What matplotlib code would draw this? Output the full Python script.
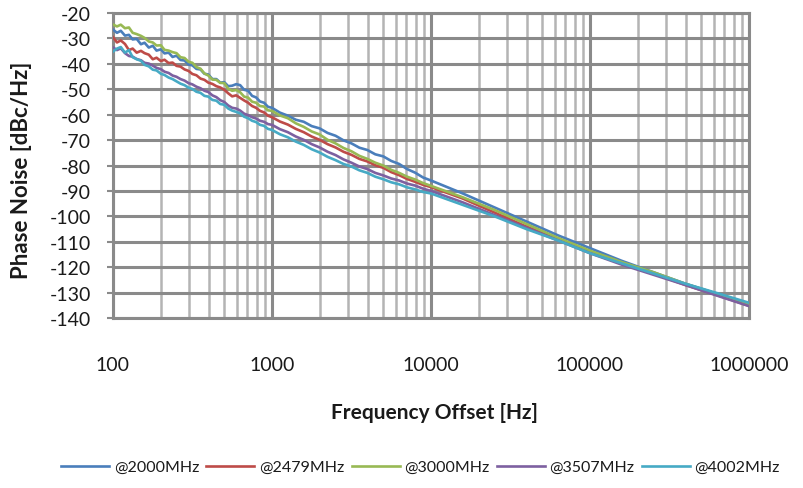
import matplotlib
matplotlib.use("Agg")
import matplotlib.pyplot as plt
from matplotlib.ticker import LogLocator, FixedLocator, NullFormatter

plt.rcParams["font.family"] = ["Lato", "DejaVu Sans"]

# frequency offset points [Hz]
freq = [100, 106, 112, 119, 126, 133, 141, 150, 158, 168,
        178, 188, 200, 211, 224, 237, 251, 266, 282, 299,
        316, 335, 355, 376, 398, 422, 447, 473, 501, 531,
        562, 596, 631, 668, 708, 750, 794, 841, 891, 944,
        1000, 1122, 1259, 1413, 1585, 1778, 1995, 2239, 2512, 2818,
        3162, 3548, 3981, 4467, 5012, 5623, 6310, 7079, 7943, 8913,
        10000, 15849, 25119, 39811, 63096, 100000, 158489, 251189, 398107, 630957,
        1000000]

# phase noise [dBc/Hz]
pn_2000 = [-26.5, -27.8, -27.0, -28.9, -28.6, -30.4, -30.2, -32.3, -31.7, -33.6,
           -32.9, -34.8, -34.3, -35.9, -35.6, -37.3, -36.8, -38.5, -38.7, -40.3,
           -40.6, -42.0, -42.2, -43.9, -44.2, -46.0, -46.0, -47.4, -47.2, -48.8,
           -48.6, -48.0, -48.4, -50.2, -50.6, -52.6, -53.2, -54.8, -55.3, -56.9,
           -57.3, -59.2, -60.4, -62.0, -62.8, -64.5, -65.4, -67.2, -68.3, -70.1,
           -71.3, -73.0, -73.9, -75.6, -76.4, -78.2, -79.4, -81.4, -82.8, -84.7,
           -85.9, -91.0, -96.5, -102.0, -107.5, -112.5, -117.5, -122.0, -126.5, -130.5,
           -134.5]
pn_2479 = [-29.5, -31.6, -30.8, -32.2, -34.6, -34.0, -35.6, -34.9, -35.8, -36.4,
           -38.2, -37.6, -38.9, -38.4, -39.7, -39.5, -40.8, -41.1, -42.2, -42.8,
           -44.0, -44.5, -45.8, -46.3, -47.4, -47.9, -48.8, -49.3, -50.2, -51.6,
           -52.8, -52.4, -53.4, -54.4, -55.3, -56.6, -57.3, -58.5, -59.1, -60.4,
           -61.0, -62.7, -63.9, -65.6, -66.9, -68.6, -69.9, -71.6, -72.9, -74.6,
           -75.8, -77.4, -78.4, -79.9, -80.9, -82.6, -83.8, -85.3, -86.4, -87.6,
           -88.5, -93.0, -98.5, -104.0, -109.0, -114.0, -118.5, -122.5, -127.0, -131.0,
           -135.2]
pn_3000 = [-24.5, -25.3, -24.6, -26.0, -25.7, -27.8, -28.3, -29.0, -29.8, -31.2,
           -31.6, -32.8, -32.7, -34.5, -34.8, -35.4, -35.8, -37.4, -37.7, -39.2,
           -39.6, -41.3, -41.9, -43.8, -44.6, -46.2, -46.3, -47.5, -47.6, -49.8,
           -50.6, -50.3, -51.2, -52.9, -53.3, -54.9, -55.3, -56.6, -56.8, -58.3,
           -58.5, -60.3, -61.4, -63.4, -64.8, -66.6, -67.8, -69.9, -71.3, -73.1,
           -74.4, -76.2, -77.4, -78.9, -80.0, -81.7, -82.9, -84.4, -85.5, -86.9,
           -88.0, -92.5, -97.5, -103.0, -108.5, -113.5, -118.0, -122.0, -126.5, -130.5,
           -134.5]
pn_3507 = [-33.5, -34.6, -33.9, -35.8, -36.9, -37.2, -38.1, -38.6, -39.6, -39.9,
           -40.7, -41.6, -42.1, -43.1, -43.6, -44.6, -45.1, -46.0, -46.6, -47.6,
           -48.1, -49.0, -49.6, -50.6, -51.1, -52.4, -53.1, -54.3, -55.0, -56.4,
           -57.3, -57.6, -58.4, -59.6, -60.2, -61.0, -61.5, -62.4, -62.8, -63.7,
           -64.0, -65.7, -66.9, -68.6, -69.9, -71.6, -72.9, -74.6, -75.9, -77.6,
           -78.9, -80.4, -81.4, -82.9, -83.9, -85.1, -85.9, -87.1, -87.9, -89.1,
           -90.0, -94.5, -99.5, -104.5, -109.5, -114.5, -119.0, -123.0, -127.0, -131.2,
           -135.3]
pn_4002 = [-35.2, -34.0, -33.4, -35.6, -34.6, -37.4, -38.2, -38.8, -40.4, -41.0,
           -42.3, -42.6, -43.9, -44.4, -45.4, -46.0, -46.9, -47.8, -48.4, -49.4,
           -49.9, -51.0, -51.4, -52.6, -52.9, -54.2, -54.5, -55.8, -56.1, -57.6,
           -58.4, -58.9, -59.5, -60.8, -61.4, -62.4, -62.9, -64.0, -64.4, -65.6,
           -66.0, -67.7, -68.9, -70.6, -71.9, -73.6, -74.9, -76.6, -77.9, -79.4,
           -80.4, -81.9, -82.9, -84.4, -85.4, -86.6, -87.4, -88.6, -89.4, -90.4,
           -91.0, -95.5, -100.0, -105.0, -109.5, -114.5, -118.5, -122.5, -126.5, -130.2,
           -134.0]

series = [
    ("@2000MHz", pn_2000, "#4A7EBB"),
    ("@2479MHz", pn_2479, "#BE4B48"),
    ("@3000MHz", pn_3000, "#98B954"),
    ("@3507MHz", pn_3507, "#7D60A0"),
    ("@4002MHz", pn_4002, "#46AAC5"),
]

y_ticks = list(range(-140, -10, 10))
x_ticks = [100, 1000, 10000, 100000, 1000000]

fig = plt.figure(figsize=(8.04, 4.89), dpi=100)
ax = fig.add_axes([0.1405, 0.3476, 0.791, 0.6238])

for name, vals, col in series:
    ax.plot(freq, vals, color=col, lw=1.9, label=name, zorder=3)

ax.set_xscale("log")
ax.set_xlim(100, 1000000)
ax.set_ylim(-140, -20)
ax.xaxis.set_major_locator(FixedLocator(x_ticks))
ax.set_xticklabels([str(t) for t in x_ticks])
ax.xaxis.set_minor_locator(LogLocator(base=10, subs=range(2, 10), numticks=20))
ax.xaxis.set_minor_formatter(NullFormatter())
ax.set_yticks(y_ticks)
ax.set_yticklabels([str(t) for t in y_ticks])

# excel style grid
ax.grid(which="major", axis="both", color="#8a8a8a", lw=2.2, zorder=1)
ax.grid(which="minor", axis="x", color="#b4b4b4", lw=1.8, zorder=1)
ax.set_axisbelow(True)
for sp in ax.spines.values():
    sp.set_color("#8a8a8a")
    sp.set_linewidth(2.2)

ax.tick_params(axis="both", which="both", labelsize=14, colors="#1a1a1a")
ax.tick_params(axis="y", length=4, width=1.5, color="#8a8a8a", pad=12)
ax.tick_params(axis="x", which="both", length=0, pad=27)

fig.text(435 / 804, 1 - 413 / 489, "Frequency Offset [Hz]", ha="center", va="center",
         fontsize=15, fontweight="bold", color="#1a1a1a")
fig.text(22 / 804, 1 - 170 / 489, "Phase Noise [dBc/Hz]", ha="center", va="center",
         rotation=90, fontsize=16, fontweight="bold", color="#1a1a1a")

fig.legend(loc="center", bbox_to_anchor=(0.523, 1 - 468 / 489), ncol=5, frameon=False,
           fontsize=11.5, handlelength=3.0, handletextpad=0.3, columnspacing=0.45,
           labelcolor="#1a1a1a")

fig.savefig("out.png", dpi=100)
